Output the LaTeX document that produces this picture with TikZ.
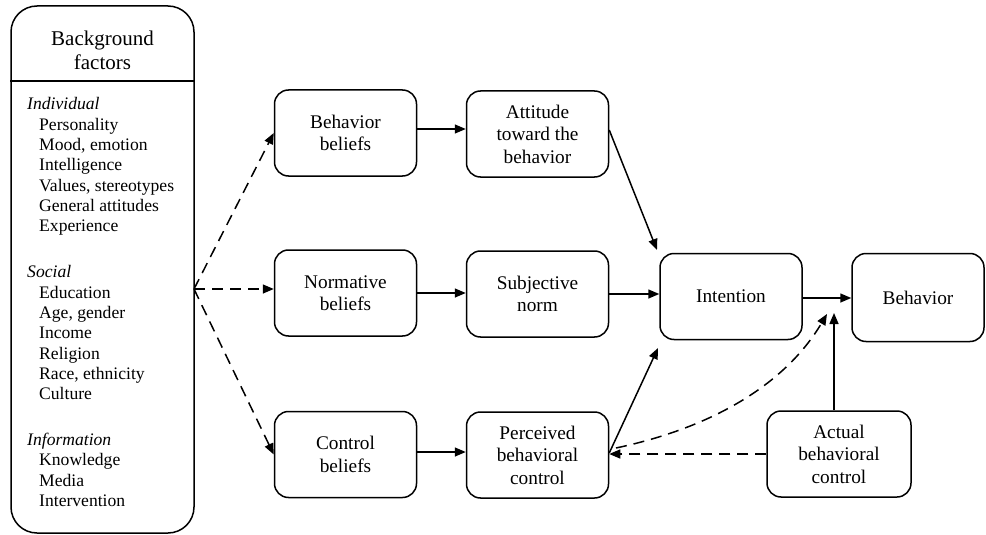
\documentclass[tikz,border=0pt]{standalone}
\usepackage{fontspec}
\setmainfont{Liberation Serif}
\usetikzlibrary{arrows.meta,calc}
\begin{document}
\begin{tikzpicture}[x=1pt,y=-1pt,
  box/.style={draw, line width=1.5pt, rounded corners=14pt, minimum width=142pt, minimum height=86pt, align=center, font=\fontsize{19.3}{22.5}\selectfont, inner sep=0pt},
  arr/.style={line width=1.5pt, -{Triangle[length=11pt,width=9pt]}},
  darr/.style={arr, dash pattern=on 11pt off 7pt},
  item/.style={anchor=base west, inner sep=0pt, font=\fontsize{17.6}{20}\selectfont},
  head/.style={anchor=base west, inner sep=0pt, font=\fontsize{17.6}{20}\selectfont\itshape}]
\useasboundingbox (0,0) rectangle (986,535);

% background factors
\node[draw, line width=1.5pt, rounded corners=26pt, minimum width=183pt, minimum height=527pt, inner sep=0pt] (bg) at (102.5,269.5) {};
\coordinate (divy) at (0,81);
\draw[line width=1.5pt] (bg.west |- divy) -- (bg.east |- divy);
\node[align=center, font=\fontsize{21}{24.3}\selectfont, inner sep=0pt] (title) at (102.5,50) {Background\\factors};

\node[head] (h1) at (27,110) {Individual};
\node[item] (i1) at (39,130.3) {Personality};
\node[item] (i2) at (39,150.6) {Mood, emotion};
\node[item] (i3) at (39,170.9) {Intelligence};
\node[item] (i4) at (39,191.2) {Values, stereotypes};
\node[item] (i5) at (39,211.5) {General attitudes};
\node[item] (i6) at (39,231.8) {Experience};
\node[head] (h2) at (27,277.8) {Social};
\node[item] (s1) at (39,298.1) {Education};
\node[item] (s2) at (39,318.4) {Age, gender};
\node[item] (s3) at (39,338.7) {Income};
\node[item] (s4) at (39,359) {Religion};
\node[item] (s5) at (39,379.3) {Race, ethnicity};
\node[item] (s6) at (39,399.6) {Culture};
\node[head] (h3) at (27,445.6) {Information};
\node[item] (f1) at (39,465.9) {Knowledge};
\node[item] (f2) at (39,486.2) {Media};
\node[item] (f3) at (39,506.5) {Intervention};

% boxes
\node[box] (bb) at (345.5,133) {Behavior\\beliefs};
\node[box] (nb) at (345.5,293) {Normative\\beliefs};
\node[box] (cb) at (345.5,454.5) {Control\\beliefs};
\node[box] (att) at (537.5,134) {Attitude\\toward the\\behavior};
\node[box] (sn) at (537.5,294) {Subjective\\norm};
\node[box] (pbc) at (537.5,455) {Perceived\\behavioral\\control};
\node[box] (int) at (731,296.5) {Intention};
\node[box, minimum width=132pt, minimum height=88pt] (beh) at (918,297.5) {Behavior};
\node[box, minimum width=144pt] (abc) at (839,454) {Actual\\behavioral\\control};

% connectors
\coordinate (J) at (194,289);
\draw[darr] (J) -- (bb.west);
\draw[darr] (J) -- (nb.west |- J);
\draw[darr] (J) -- (cb.west);

\draw[arr] (bb.east |- 0,129) -- (att.west |- 0,129);
\draw[arr] (nb.east) -- (nb.east -| sn.west);
\draw[arr] (cb.east |- 0,452) -- (pbc.west |- 0,452);

\coordinate (ai) at (657,250);
\coordinate (pi) at (658,348);
\draw[arr] (att.east |- 0,130) -- (ai);
\draw[arr] (sn.east) -- (sn.east -| int.west);
\draw[arr] (pbc.east |- 0,453) -- (pi);

\draw[arr] (int.east |- 0,298) -- (beh.west |- 0,298);
\coordinate (ab) at (834,313);
\draw[arr] (abc.north -| ab) -- (ab);

\draw[darr] (abc.west) -- (abc.west -| pbc.east);
\coordinate (cs) at (616,448);
\coordinate (ce) at (827,314);
\draw[darr] (cs) .. controls (715,427) and (786,383) .. (ce);
\end{tikzpicture}
\end{document}
